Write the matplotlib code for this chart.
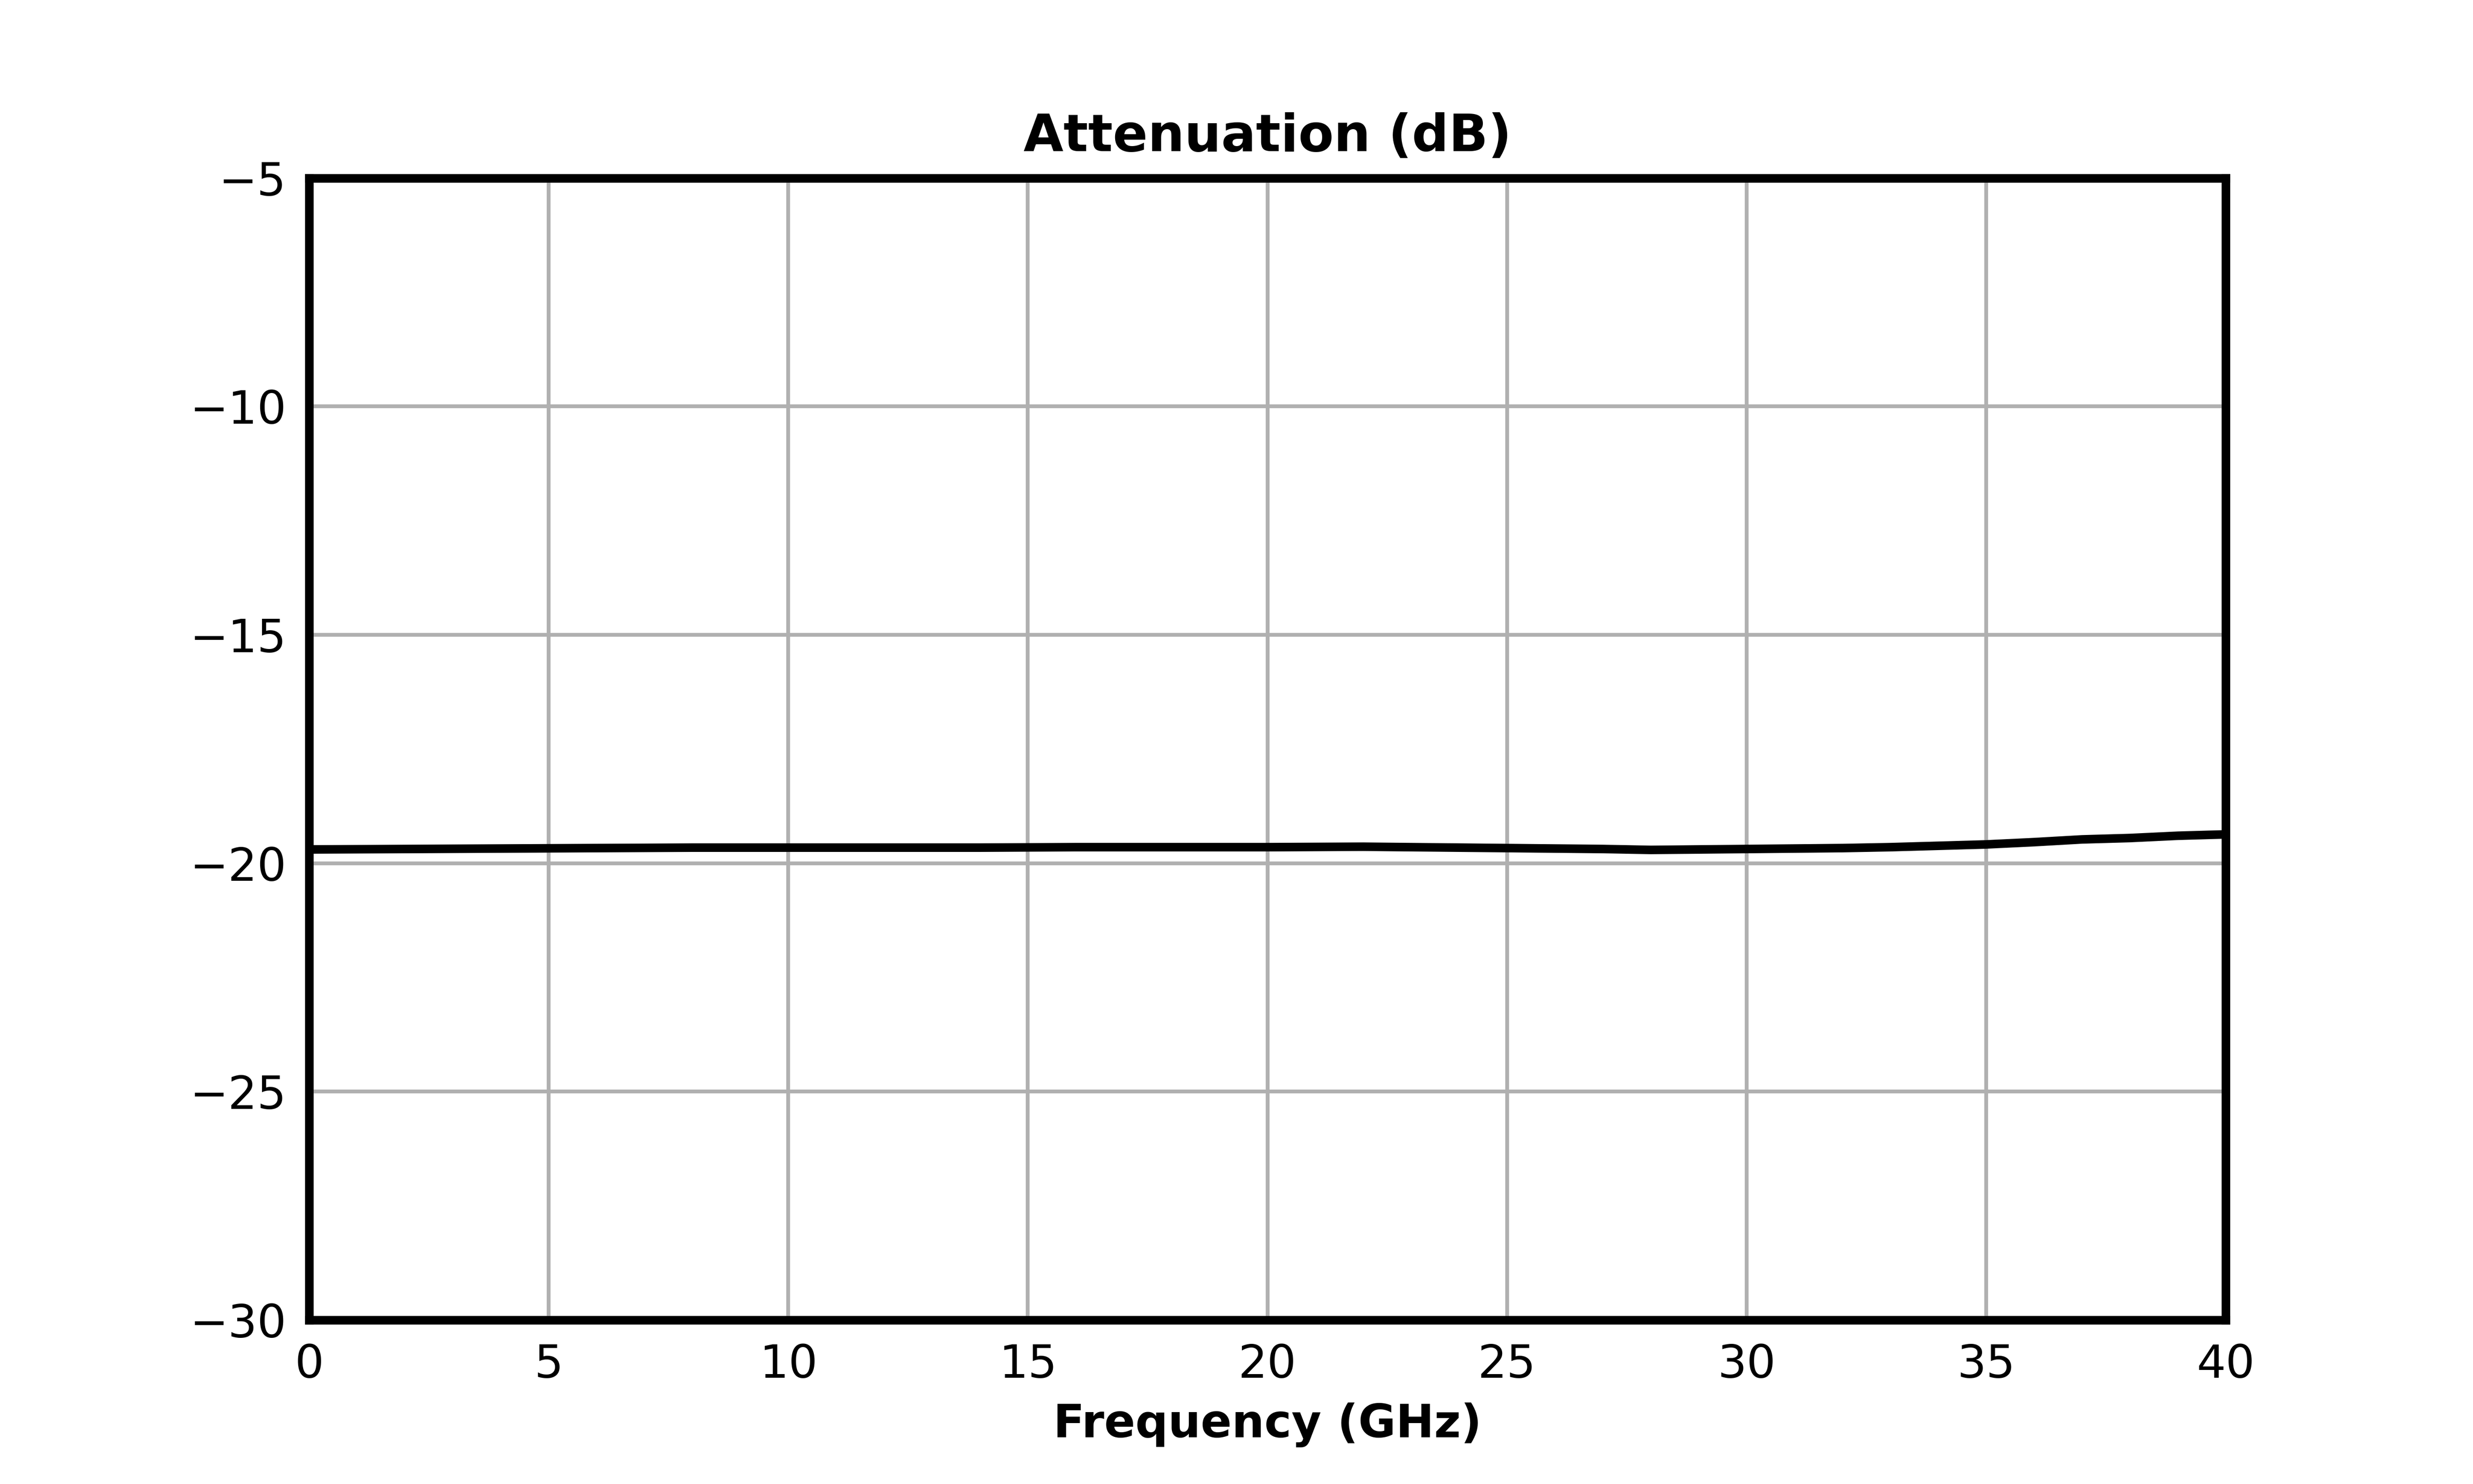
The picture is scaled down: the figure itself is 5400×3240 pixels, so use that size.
import matplotlib
matplotlib.use("Agg")
import matplotlib.pyplot as plt

freq_ghz = [0, 2, 4, 6, 8, 10, 12, 14, 16, 18, 20, 22, 24, 26, 27, 28, 29, 30, 31, 32, 33, 34, 35, 36, 37, 38, 39, 40]
atten_db = [-19.70, -19.69, -19.68, -19.67, -19.66, -19.66, -19.66, -19.66, -19.65, -19.65, -19.65, -19.64, -19.66, -19.68, -19.69, -19.71, -19.70, -19.69, -19.68, -19.67, -19.65, -19.62, -19.59, -19.54, -19.48, -19.45, -19.40, -19.37]
x_ticks = [0, 5, 10, 15, 20, 25, 30, 35, 40]
y_ticks = [-30, -25, -20, -15, -10, -5]

fig = plt.figure(figsize=(18, 10.8), dpi=300)
ax = fig.add_axes([0.125, 0.1106, 0.775, 0.7694])
ax.plot(freq_ghz, atten_db, color="black", lw=4.5)
ax.set_xlim(0, 40)
ax.set_ylim(-30, -5)
ax.set_xticks(x_ticks)
ax.set_yticks(y_ticks)
ax.grid(True, color="#b0b0b0", lw=2)
for s in ax.spines.values():
    s.set_linewidth(4.5)
ax.tick_params(labelsize=24, length=0, pad=12)
ax.set_title("Attenuation (dB)", fontsize=27, fontweight="bold", pad=14)
ax.set_xlabel("Frequency (GHz)", fontsize=24, fontweight="bold", labelpad=8)
fig.savefig("out.png", dpi=300)
